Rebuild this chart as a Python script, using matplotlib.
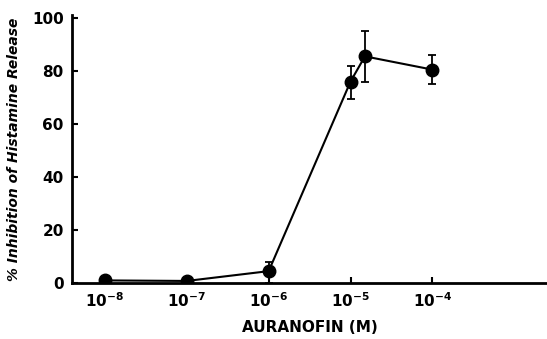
import matplotlib
matplotlib.use("Agg")
import matplotlib.pyplot as plt

# === Data ===
conc = [1e-8, 1e-7, 1e-6, 1e-5, 1.5e-5, 1e-4]          # auranofin (M)
inhibition = [1.0, 0.8, 4.5, 76.0, 85.5, 80.5]          # % inhibition
err_up = [0.0, 0.0, 3.5, 6.0, 9.5, 5.5]
err_down = [0.0, 0.0, 4.5, 6.5, 9.5, 5.5]

xticks = [1e-8, 1e-7, 1e-6, 1e-5, 1e-4]
xtick_labels = [r"$\mathbf{10^{-8}}$", r"$\mathbf{10^{-7}}$", r"$\mathbf{10^{-6}}$",
                r"$\mathbf{10^{-5}}$", r"$\mathbf{10^{-4}}$"]
yticks = [0, 20, 40, 60, 80, 100]

plt.rcParams['font.family'] = 'DejaVu Sans'
plt.rcParams['mathtext.fontset'] = 'dejavusans'

fig = plt.figure(figsize=(5.47, 3.39), dpi=100)
ax = fig.add_axes([0.132, 0.165, 0.868, 0.79])

ax.errorbar(conc, inhibition, yerr=[err_down, err_up], fmt='-o', color='black',
            markersize=9, linewidth=1.5, elinewidth=1.3, capsize=3, capthick=1.3)

ax.set_xscale('log')
ax.set_xlim(10 ** -8.4, 10 ** -2.6)
ax.set_ylim(0, 101)
ax.set_xticks(xticks)
ax.set_xticklabels(xtick_labels, fontsize=11)
ax.minorticks_off()
ax.set_yticks(yticks)
ax.set_yticklabels([str(t) for t in yticks], fontsize=11, fontweight='bold')

ax.spines['top'].set_visible(False)
ax.spines['right'].set_visible(False)
ax.spines['left'].set_linewidth(2)
ax.spines['bottom'].set_linewidth(2)
ax.tick_params(direction='in', length=4, width=1.5, pad=6)

ax.set_xlabel("AURANOFIN (M)", fontsize=11, fontweight='bold', labelpad=7)
ax.set_ylabel("% Inhibition of Histamine Release", fontsize=10, fontweight='bold',
              fontstyle='italic', labelpad=8)

fig.savefig("out.png", dpi=100)
